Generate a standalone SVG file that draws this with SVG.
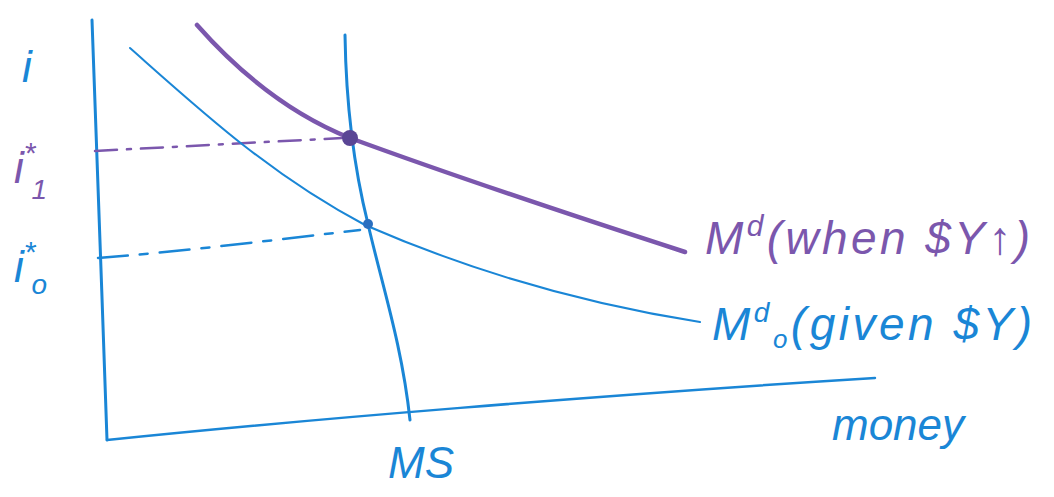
<svg xmlns="http://www.w3.org/2000/svg" width="1054" height="497" viewBox="0 0 1054 497">
<style>
.b{stroke:#1a86d6;fill:none;stroke-linecap:round;stroke-linejoin:round}
.p{stroke:#7b57ad;fill:none;stroke-linecap:round;stroke-linejoin:round}
.tb{fill:#1a86d6;font-family:"Liberation Sans",sans-serif;font-style:italic}
.tp{fill:#7b57ad;font-family:"Liberation Sans",sans-serif;font-style:italic}
</style>
<rect width="1054" height="497" fill="#fff"/>
<g id="axes">
<path class="b" stroke-width="3" d="M92,20 C96,120 102,300 107,440"/>
<path class="b" stroke-width="2.5" d="M107,440 C300,420 600,395 875,378"/>
</g>
<g id="connectors">
<path class="p" stroke-width="2.5" stroke-dasharray="22,10,4,10" d="M95,151 L342,138"/>
<path class="b" stroke-width="2.5" stroke-dasharray="30,12,8,12" d="M98,258 C180,252 290,238 360,230"/>
</g>
<g id="ms-curve">
<path class="b" stroke-width="3" d="M345,35 C346,100 352,160 368,224 C382,285 402,345 410,420"/>
</g>
<g id="md1-curve">
<path class="p" stroke-width="4.5" d="M197,25 C250,85 300,118 350,138 C470,182 580,218 685,252"/>
</g>
<g id="md0-curve">
<path class="b" stroke-width="2" d="M130,48 C200,110 270,175 365,225 C450,262 560,300 700,322"/>
</g>
<g id="dot-1"><circle cx="350" cy="138" r="8" fill="#5a4595"/></g>
<g id="dot-0"><circle cx="368" cy="224" r="5" fill="#2a6fc0"/></g>
<g id="label-i"><text class="tb" x="22" y="82" font-size="44">i</text></g>
<g id="label-i1"><text class="tp" x="14" y="183" font-size="44">i<tspan font-size="30" dy="-20">*</tspan><tspan font-size="28" dx="-4" dy="36">1</tspan></text></g>
<g id="label-i0"><text class="tb" x="14" y="282" font-size="44">i<tspan font-size="30" dy="-20">*</tspan><tspan font-size="28" dx="-4" dy="32">o</tspan></text></g>
<g id="label-md1"><text class="tp" x="705" y="254" font-size="46" textLength="325" lengthAdjust="spacing">M<tspan font-size="30" dy="-18">d</tspan><tspan dy="18">(when $Y↑)</tspan></text></g>
<g id="label-md0"><text class="tb" x="712" y="340" font-size="46" textLength="320" lengthAdjust="spacing">M<tspan font-size="28" dy="-18">d</tspan><tspan font-size="26" dy="26">o</tspan><tspan dy="-8">(given $Y)</tspan></text></g>
<g id="label-ms"><text class="tb" x="388" y="478" font-size="44">MS</text></g>
<g id="label-money"><text class="tb" x="832" y="440" font-size="44">money</text></g>
</svg>
